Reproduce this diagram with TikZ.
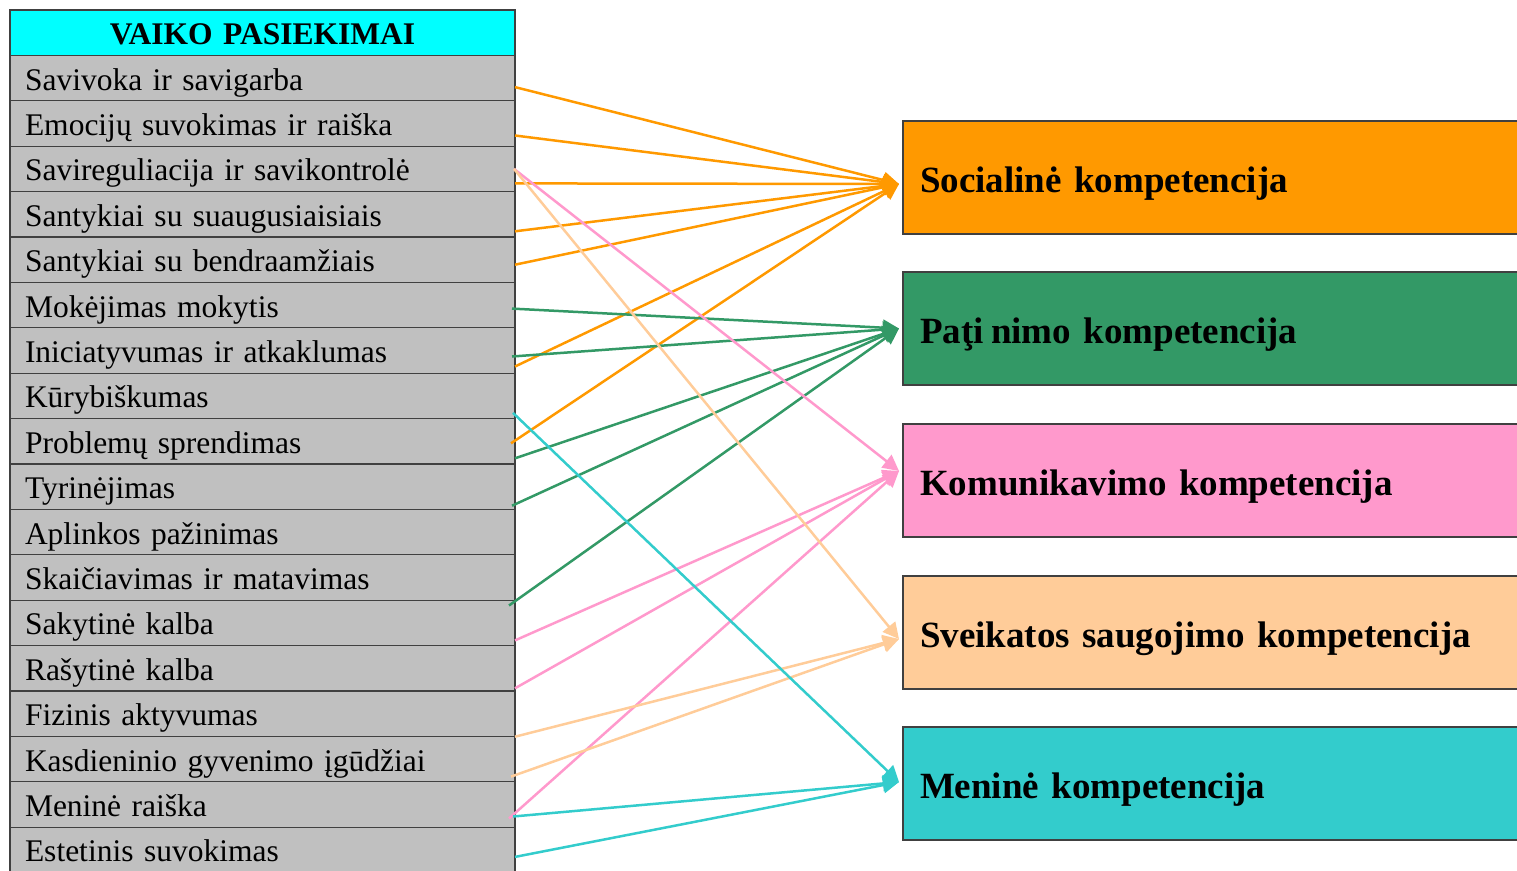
\documentclass[tikz,border=0pt]{standalone}
\usepackage{fontspec}
\setmainfont{Liberation Serif}
\usetikzlibrary{positioning,arrows.meta}

\definecolor{socorange}{HTML}{FF9900}
\definecolor{pazgreen}{HTML}{339966}
\definecolor{kompink}{HTML}{FF99CC}
\definecolor{sveikpeach}{HTML}{FFCC99}
\definecolor{menteal}{HTML}{33CCCC}
\definecolor{rowgray}{HTML}{C0C0C0}
\definecolor{headcyan}{HTML}{00FFFF}

\begin{document}
\begin{tikzpicture}[x=1pt,y=-1pt,
			every node/.style = {shape=rectangle, draw=black!75, line width=1.3pt,
				inner ysep=0pt, outer sep=0pt},
			row/.style = {fill=rowgray, minimum height=45.4pt, text width=475pt,
				text height=26pt, text depth=2pt,
				inner xsep=15pt, align=left, font=\fontsize{31.5}{36}\selectfont},
			head/.style = {row, fill=headcyan, align=center,
				font=\fontsize{31.5}{36}\selectfont\bfseries},
			komp/.style = {anchor=north west, minimum height=113pt, text width=600pt,
				text height=30pt, text depth=1pt,
				inner xsep=17pt, align=left,
				font=\fontsize{37}{42}\selectfont\bfseries},
			link/.style = {line width=2.5pt, -{Triangle[length=16pt,width=16pt]}}]
			\useasboundingbox (0,0) rectangle (1517,870);
			\clip (0,0) rectangle (1517,870);
			% vaiko pasiekimai
			\node[head, anchor=north west] (head) at (10,10) {VAIKO PASIEKIMAI};
			\node[row, below=0pt of head] (savivoka) {Savivoka ir savigarba};
			\node[row, below=0pt of savivoka] (emocijos) {Emocijų suvokimas ir raiška};
			\node[row, below=0pt of emocijos] (saviregul) {Savireguliacija ir savikontrolė};
			\node[row, below=0pt of saviregul] (suaug) {Santykiai su suaugusiaisiais};
			\node[row, below=0pt of suaug] (bendra) {Santykiai su bendraamžiais};
			\node[row, below=0pt of bendra] (mokejimas) {Mokėjimas mokytis};
			\node[row, below=0pt of mokejimas] (iniciat) {Iniciatyvumas ir atkaklumas};
			\node[row, below=0pt of iniciat] (kuryb) {Kūrybiškumas};
			\node[row, below=0pt of kuryb] (problem) {Problemų sprendimas};
			\node[row, below=0pt of problem] (tyrin) {Tyrinėjimas};
			\node[row, below=0pt of tyrin] (aplink) {Aplinkos pažinimas};
			\node[row, below=0pt of aplink] (skaic) {Skaičiavimas ir matavimas};
			\node[row, below=0pt of skaic] (sakyt) {Sakytinė kalba};
			\node[row, below=0pt of sakyt] (rasyt) {Rašytinė kalba};
			\node[row, below=0pt of rasyt] (fizin) {Fizinis aktyvumas};
			\node[row, below=0pt of fizin] (kasdien) {Kasdieninio gyvenimo įgūdžiai};
			\node[row, below=0pt of kasdien] (menin) {Meninė raiška};
			\node[row, below=0pt of menin] (estet) {Estetinis suvokimas};
			% kompetencijos
			\node[komp, fill=socorange] (social) at (903,121) {Socialinė kompetencija};
			\node[komp, fill=pazgreen] (pazin) at (903,272) {Paţi\hspace{0.2em}nimo kompetencija};
			\node[komp, fill=kompink] (komun) at (903,424) {Komunikavimo kompetencija};
			\node[komp, fill=sveikpeach] (sveik) at (903,576) {Sveikatos saugojimo kompetencija};
			\node[komp, fill=menteal] (meno) at (903,727) {Meninė kompetencija};
			% rodyklės
			\draw[link, socorange] ([yshift=-9pt]savivoka.east) -- ([xshift=-4pt,yshift=-6.5pt]social.west);
			\draw[link, socorange] ([yshift=-12pt]emocijos.east) -- ([xshift=-4pt,yshift=-6.5pt]social.west);
			\draw[link, socorange] ([yshift=-14.5pt]saviregul.east) -- ([xshift=-4pt,yshift=-6.5pt]social.west);
			\draw[link, socorange] ([yshift=-17pt]suaug.east) -- ([xshift=-4pt,yshift=-6.5pt]social.west);
			\draw[link, socorange] ([yshift=-5pt]bendra.east) -- ([xshift=-4pt,yshift=-6.5pt]social.west);
			\draw[link, socorange] ([yshift=-16pt]iniciat.east) -- ([xshift=-4pt,yshift=-6.5pt]social.west);
			\draw[link, socorange] ([xshift=-4pt,yshift=-2pt]problem.east) -- ([xshift=-4pt,yshift=-6.5pt]social.west);
			\draw[link, pazgreen] ([xshift=-3pt,yshift=-3.5pt]mokejimas.east) -- ([xshift=-4pt]pazin.west);
			\draw[link, pazgreen] ([xshift=-3pt,yshift=-6pt]iniciat.east) -- ([xshift=-4pt]pazin.west);
			\draw[link, pazgreen] ([yshift=-17pt]problem.east) -- ([xshift=-4pt]pazin.west);
			\draw[link, pazgreen] ([xshift=-3pt,yshift=-19pt]tyrin.east) -- ([xshift=-4pt]pazin.west);
			\draw[link, pazgreen] ([xshift=-6pt,yshift=-28pt]skaic.east) -- ([xshift=-4pt]pazin.west);
			\draw[link, kompink] ([xshift=-1pt]saviregul.east) -- ([xshift=-4pt,yshift=9.5pt]komun.west);
			\draw[link, kompink] ([yshift=-17.5pt]sakyt.east) -- ([xshift=-4pt,yshift=9.5pt]komun.west);
			\draw[link, kompink] ([yshift=-20pt]rasyt.east) -- ([xshift=-4pt,yshift=9.5pt]komun.west);
			\draw[link, kompink] ([xshift=-6pt,yshift=-14pt]menin.east) -- ([xshift=-4pt,yshift=9.5pt]komun.west);
			\draw[link, sveikpeach] ([xshift=-1pt]saviregul.east) -- ([xshift=-4pt,yshift=-6.5pt]sveik.west);
			\draw[link, sveikpeach] ([yshift=-23pt]fizin.east) -- ([xshift=-4pt,yshift=-6.5pt]sveik.west);
			\draw[link, sveikpeach] ([xshift=-4pt,yshift=-17.5pt]kasdien.east) -- ([xshift=-4pt,yshift=-6.5pt]sveik.west);
			\draw[link, menteal] ([xshift=-2pt,yshift=-17pt]kuryb.east) -- ([xshift=-4pt,yshift=1.5pt]meno.west);
			\draw[link, menteal] ([xshift=-2pt,yshift=-12pt]menin.east) -- ([xshift=-4pt,yshift=1.5pt]meno.west);
			\draw[link, menteal] ([yshift=-7pt]estet.east) -- ([xshift=-4pt,yshift=1.5pt]meno.west);
		\end{tikzpicture}
\end{document}
